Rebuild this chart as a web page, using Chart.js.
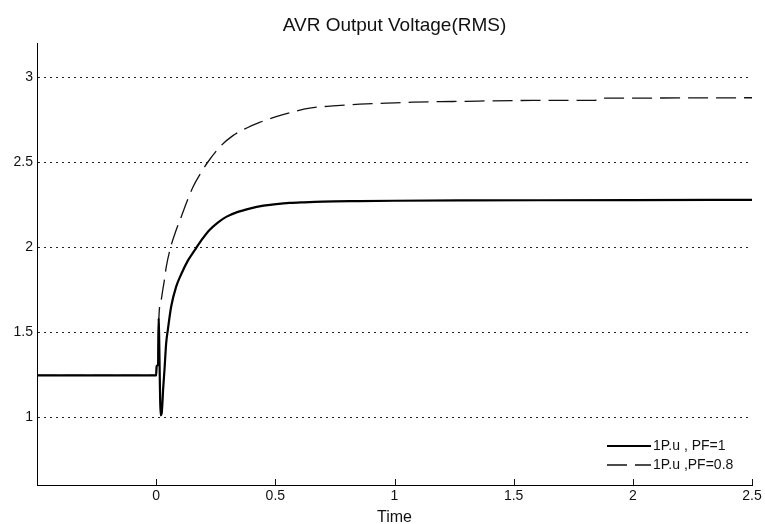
<!DOCTYPE html>
<html>
<head>
<meta charset="utf-8">
<title>AVR Output Voltage(RMS)</title>
<script src="https://cdn.jsdelivr.net/npm/chart.js@4.4.1/dist/chart.umd.min.js"></script>
<style>
  html, body { margin: 0; padding: 0; background: #ffffff; }
  #wrap { position: relative; width: 765px; height: 524px; }
</style>
</head>
<body>
<div id="wrap"><canvas id="chart"></canvas></div>
<script>
// Time axis (s) and RMS output voltage (p.u.) for each load case
const timePF1 = [-0.5, 0, 0.002, 0.008, 0.010, 0.019, 0.023, 0.030, 0.035, 0.042, 0.049, 0.063, 0.084, 0.105, 0.133, 0.161, 0.19, 0.224, 0.26, 0.294, 0.34, 0.392, 0.45, 0.504, 0.56, 0.62, 0.7, 0.85, 1.0, 1.3, 1.6, 2.0, 2.5];
const voltPF1 = [1.245, 1.245, 1.30, 1.31, 1.58, 1.01, 1.02, 1.18, 1.28, 1.435, 1.513, 1.65, 1.767, 1.84, 1.92, 1.98, 2.04, 2.10, 2.145, 2.177, 2.205, 2.226, 2.243, 2.252, 2.259, 2.263, 2.267, 2.27, 2.272, 2.274, 2.275, 2.276, 2.277];

const timePF08 = [-0.5, 0, 0.002, 0.008, 0.012, 0.02, 0.028, 0.035, 0.042, 0.063, 0.084, 0.105, 0.13, 0.154, 0.185, 0.217, 0.266, 0.322, 0.38, 0.434, 0.5, 0.56, 0.644, 0.742, 0.854, 0.966, 1.078, 1.19, 1.3, 1.413, 1.6, 1.84, 1.86, 2.0, 2.2, 2.5];
const voltPF08 = [1.245, 1.245, 1.30, 1.31, 1.60, 1.68, 1.75, 1.81, 1.88, 2.01, 2.10, 2.177, 2.27, 2.352, 2.43, 2.50, 2.587, 2.655, 2.70, 2.733, 2.765, 2.79, 2.817, 2.83, 2.84, 2.846, 2.852, 2.855, 2.857, 2.86, 2.862, 2.862, 2.875, 2.876, 2.877, 2.878];

const seriesLabels = ['1P.u , PF=1', '1P.u ,PF=0.8'];

const xTickValues = [0, 0.5, 1, 1.5, 2, 2.5];
const xTickLabels = ['0', '0.5', '1', '1.5', '2', '2.5'];
const yTickValues = [1, 1.5, 2, 2.5, 3];
const yTickLabels = ['1', '1.5', '2', '2.5', '3'];

const FONT = '"Liberation Sans", Arial, Helvetica, sans-serif';
const INK = '#111111';

function toPoints(xs, ys) {
  return xs.map((x, i) => ({ x: x, y: ys[i] }));
}

// Short tick marks pointing into the plot along the time axis
const innerTicks = {
  id: 'innerTicks',
  afterDatasetsDraw(chart) {
    const { ctx, chartArea, scales } = chart;
    ctx.save();
    ctx.strokeStyle = INK;
    ctx.lineWidth = 1;
    ctx.beginPath();
    xTickValues.forEach(v => {
      const px = Math.round(scales.x.getPixelForValue(v)) + 0.5;
      ctx.moveTo(px, chartArea.bottom);
      ctx.lineTo(px, chartArea.bottom - 6);
    });
    ctx.stroke();
    ctx.restore();
  }
};

// Legend drawn inside the lower-right corner of the plot area
const cornerLegend = {
  id: 'cornerLegend',
  afterDatasetsDraw(chart) {
    const { ctx, chartArea } = chart;
    const rows = [chartArea.bottom - 39, chartArea.bottom - 20];
    const x0 = chartArea.right - 145;
    const x1 = chartArea.right - 101;
    ctx.save();
    chart.data.datasets.forEach((ds, i) => {
      const y = rows[i];
      ctx.beginPath();
      ctx.strokeStyle = ds.borderColor;
      ctx.lineWidth = ds.borderWidth;
      ctx.setLineDash(ds.borderDash || []);
      ctx.moveTo(x0, y);
      ctx.lineTo(x1, y);
      ctx.stroke();
      ctx.setLineDash([]);
      ctx.fillStyle = INK;
      ctx.font = '14px ' + FONT;
      ctx.textAlign = 'left';
      ctx.textBaseline = 'middle';
      ctx.fillText(ds.label, x1 + 2, y);
    });
    ctx.restore();
  }
};

new Chart(document.getElementById('chart'), {
  type: 'line',
  data: {
    datasets: [
      {
        label: seriesLabels[0],
        data: toPoints(timePF1, voltPF1),
        borderColor: '#000000',
        borderWidth: 2.2,
        pointRadius: 0,
        cubicInterpolationMode: 'monotone',
        fill: false
      },
      {
        label: seriesLabels[1],
        data: toPoints(timePF08, voltPF08),
        borderColor: '#111111',
        borderWidth: 1.3,
        borderDash: [20, 8],
        pointRadius: 0,
        cubicInterpolationMode: 'monotone',
        fill: false
      }
    ]
  },
  options: {
    responsive: true,
    maintainAspectRatio: false,
    animation: false,
    layout: { padding: { left: 0, right: 13, top: 0, bottom: 0 } },
    plugins: {
      legend: { display: false },
      tooltip: { enabled: false },
      title: {
        display: true,
        text: 'AVR Output Voltage(RMS)',
        color: INK,
        fullSize: false,
        font: { family: FONT, size: 19, weight: 'normal', lineHeight: 1.2 },
        padding: { top: 14, bottom: 6.2 }
      }
    },
    scales: {
      x: {
        type: 'linear',
        min: -0.5,
        max: 2.5,
        afterBuildTicks(scale) { scale.ticks = xTickValues.map(v => ({ value: v })); },
        afterFit(scale) { scale.height = 39; },
        grid: { display: false, drawTicks: false },
        border: { display: true, color: '#000000', width: 1 },
        ticks: {
          color: INK,
          padding: 3,
          maxRotation: 0,
          autoSkip: false,
          font: { family: FONT, size: 14 },
          callback: (value, index) => xTickLabels[index]
        },
        title: {
          display: true,
          text: 'Time',
          color: INK,
          font: { family: FONT, size: 16, lineHeight: 0.8 },
          padding: { top: 0, bottom: 0 }
        }
      },
      y: {
        type: 'linear',
        min: 0.6,
        max: 3.2,
        afterBuildTicks(scale) { scale.ticks = yTickValues.map(v => ({ value: v })); },
        afterFit(scale) { scale.width = 37; },
        grid: { color: '#222222', lineWidth: 1, drawTicks: false },
        border: { display: true, color: '#000000', width: 1, dash: [2, 4] },
        ticks: {
          color: INK,
          padding: 4,
          autoSkip: false,
          font: { family: FONT, size: 14 },
          callback: (value, index) => yTickLabels[index]
        }
      }
    }
  },
  plugins: [innerTicks, cornerLegend]
});
</script>
</body>
</html>
